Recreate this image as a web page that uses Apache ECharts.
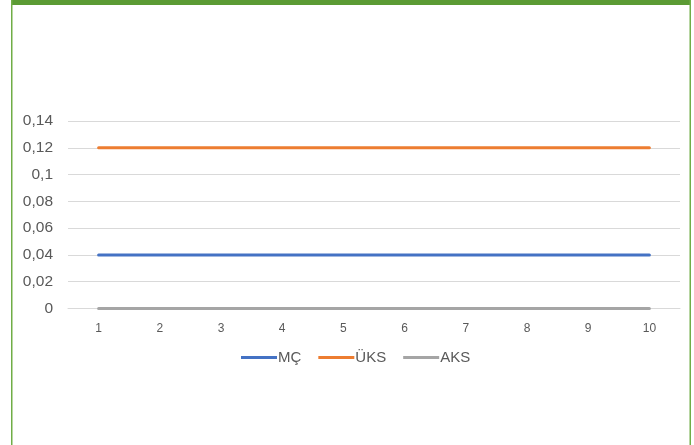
<!DOCTYPE html>
<html>
<head>
<meta charset="utf-8">
<script src="https://cdn.jsdelivr.net/npm/echarts@6/dist/echarts.min.js"></script>
<style>
  html, body { margin: 0; padding: 0; background: #fff; }
  #chart { width: 694px; height: 445px; }
</style>
</head>
<body>
<div id="chart"></div>
<script>
// Category axis and series values
const categories = ['1', '2', '3', '4', '5', '6', '7', '8', '9', '10'];
const seriesNames = ['MÇ', 'ÜKS', 'AKS'];
const mcValues = [0.04, 0.04, 0.04, 0.04, 0.04, 0.04, 0.04, 0.04, 0.04, 0.04];
const uksValues = [0.12, 0.12, 0.12, 0.12, 0.12, 0.12, 0.12, 0.12, 0.12, 0.12];
const aksValues = [0, 0, 0, 0, 0, 0, 0, 0, 0, 0];
const seriesColors = ['#4472C4', '#ED7D31', '#A5A5A5'];

const chart = echarts.init(document.getElementById('chart'), null, { renderer: 'canvas' });

const fontFamily = '"Liberation Sans", Arial, sans-serif';

chart.setOption({
  animation: false,
  backgroundColor: '#ffffff',
  color: seriesColors,
  graphic: [
    { type: 'rect', shape: { x: 11, y: 0, width: 680, height: 5 }, style: { fill: '#5b9b34' }, silent: true },
    { type: 'rect', shape: { x: 11, y: 0, width: 1.5, height: 445 }, style: { fill: '#70ad47' }, silent: true },
    { type: 'rect', shape: { x: 689.5, y: 0, width: 1.5, height: 445 }, style: { fill: '#70ad47' }, silent: true }
  ],
  grid: { left: 68, right: 14, top: 121, bottom: 136.5, containLabel: false },
  legend: {
    data: seriesNames,
    top: 345,
    left: 236,
    icon: 'rect',
    itemWidth: 36,
    itemHeight: 3,
    itemGap: 17,
    textStyle: { color: '#595959', fontSize: 15, fontFamily: fontFamily, padding: [0, 0, 0, -4] }
  },
  xAxis: {
    type: 'category',
    data: categories,
    boundaryGap: true,
    axisLine: { show: true, lineStyle: { color: '#d9d9d9', width: 1 } },
    axisTick: { show: false },
    axisLabel: { color: '#595959', fontSize: 12, fontFamily: fontFamily, margin: 14 }
  },
  yAxis: {
    type: 'value',
    min: 0,
    max: 0.14,
    interval: 0.02,
    axisLine: { show: false },
    axisTick: { show: false },
    splitLine: { lineStyle: { color: '#d9d9d9', width: 1 } },
    axisLabel: {
      color: '#595959',
      fontSize: 15.5,
      fontFamily: fontFamily,
      margin: 15,
      formatter: function (v) {
        return String(Math.round(v * 100) / 100).replace('.', ',');
      }
    }
  },
  series: [
    { name: seriesNames[0], type: 'line', data: mcValues, symbol: 'none', lineStyle: { width: 3, cap: 'round' } },
    { name: seriesNames[1], type: 'line', data: uksValues, symbol: 'none', lineStyle: { width: 3, cap: 'round' } },
    { name: seriesNames[2], type: 'line', data: aksValues, symbol: 'none', lineStyle: { width: 3, cap: 'round' } }
  ]
});
</script>
</body>
</html>
